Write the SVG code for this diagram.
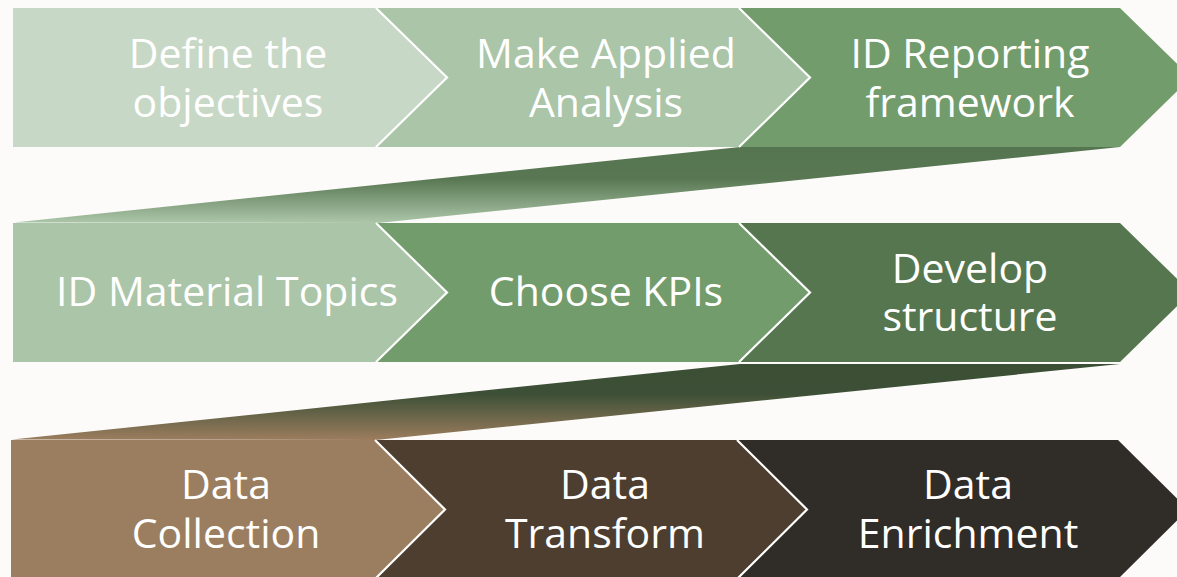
<svg xmlns="http://www.w3.org/2000/svg" width="1177" height="577" viewBox="0 0 1177 577">
<defs>
<linearGradient id="g1" gradientUnits="userSpaceOnUse" x1="0" y1="147" x2="0" y2="223">
<stop offset="0" stop-color="#557450"/><stop offset="0.42" stop-color="#587752"/><stop offset="1" stop-color="#adc6aa"/>
</linearGradient>
<linearGradient id="g2" gradientUnits="userSpaceOnUse" x1="0" y1="364" x2="0" y2="440">
<stop offset="0" stop-color="#3b4f35"/><stop offset="0.4" stop-color="#3d5037"/><stop offset="1" stop-color="#9c7d5e"/>
</linearGradient>
<style>
.t{font-family:"Open Sans","Noto Sans","Liberation Sans",sans-serif;font-size:41px;fill:#ffffff;text-anchor:middle}
.sep{fill:none;stroke:#ffffff;stroke-width:2.2}
</style>
</defs>
<rect width="1177" height="577" fill="#fcfbf9"/>
<g id="connectors">
<path d="M14,222.5 L740,147 L1120,147 L378,223 Z" fill="url(#g1)"/>
<path d="M12,439.5 L740,364 L1120,364 L376,440 Z" fill="url(#g2)"/>
</g>
<g id="n1">
<polygon points="13,8 376,8 447,77.5 376,147 13,147" fill="#c8d8c6"/>
<text class="t" x="228" y="68">Define the</text>
<text class="t" x="228" y="117">objectives</text>
</g>
<g id="n2">
<polygon points="376,8 739,8 810,77.5 739,147 376,147 447,77.5" fill="#abc5a8"/>
<polyline class="sep" points="376,8 447,77.5 376,147"/>
<text class="t" x="606" y="68">Make Applied</text>
<text class="t" x="606" y="117">Analysis</text>
</g>
<g id="n3">
<polygon points="739,8 1120,8 1191,77.5 1120,147 739,147 810,77.5" fill="#739c6c"/>
<polyline class="sep" points="739,8 810,77.5 739,147"/>
<text class="t" x="970" y="68">ID Reporting</text>
<text class="t" x="970" y="117">framework</text>
</g>
<g id="n4">
<polygon points="13,223 376,223 447,292.5 376,362 13,362" fill="#abc5a8"/>
<text class="t" x="227" y="306">ID Material Topics</text>
</g>
<g id="n5">
<polygon points="376,223 739,223 810,292.5 739,362 376,362 447,292.5" fill="#739c6c"/>
<polyline class="sep" points="376,223 447,292.5 376,362"/>
<text class="t" x="606" y="306">Choose KPIs</text>
</g>
<g id="n6">
<polygon points="739,223 1120,223 1191,292.5 1120,362 739,362 810,292.5" fill="#567650"/>
<polyline class="sep" points="739,223 810,292.5 739,362"/>
<text class="t" x="970" y="283">Develop</text>
<text class="t" x="970" y="331">structure</text>
</g>
<g id="n7">
<polygon points="11,440 375,440 445,509.5 375,579 11,579" fill="#9b7e5f"/>
<text class="t" x="226" y="499">Data</text>
<text class="t" x="226" y="548">Collection</text>
</g>
<g id="n8">
<polygon points="375,440 737,440 807,509.5 737,579 375,579 445,509.5" fill="#4d3e2f"/>
<polyline class="sep" points="375,440 445,509.5 375,579"/>
<text class="t" x="605" y="499">Data</text>
<text class="t" x="605" y="548">Transform</text>
</g>
<g id="n9">
<polygon points="737,440 1118,440 1188,509.5 1118,579 737,579 807,509.5" fill="#302c28"/>
<polyline class="sep" points="737,440 807,509.5 737,579"/>
<text class="t" x="968" y="499">Data</text>
<text class="t" x="968" y="548">Enrichment</text>
</g>
</svg>
